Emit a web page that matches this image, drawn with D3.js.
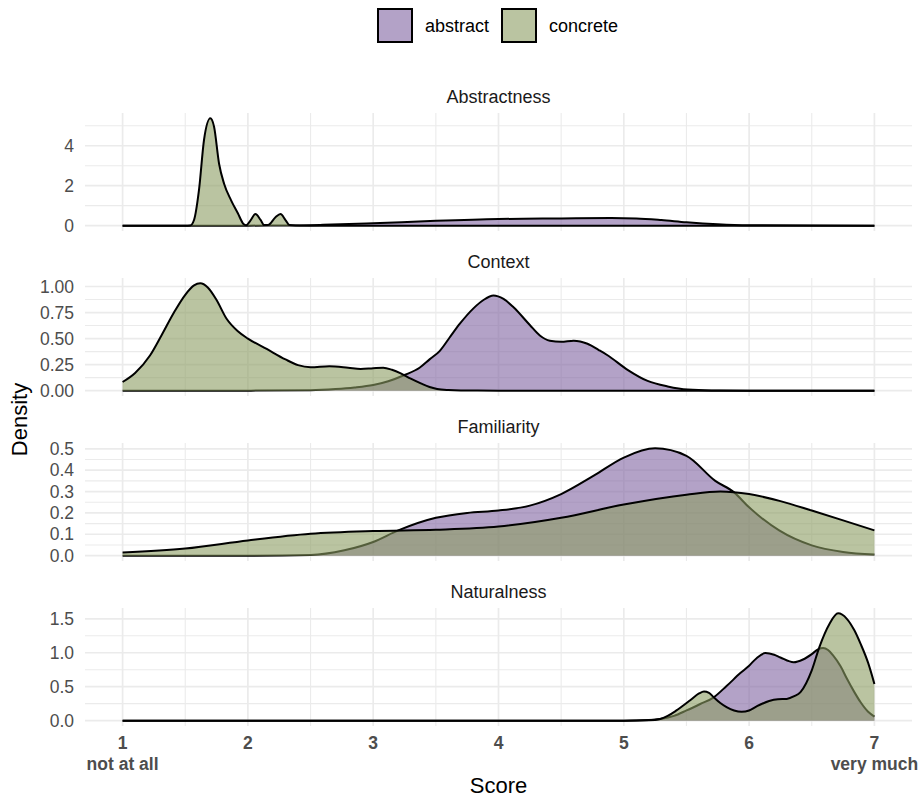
<!DOCTYPE html>
<html>
<head>
<meta charset="utf-8">
<script src="https://cdn.jsdelivr.net/npm/d3@7"></script>
<style>
  body { margin: 0; background: #fff; }
  svg { font-family: "Liberation Sans", Arial, sans-serif; }
</style>
</head>
<body>
<svg id="chart" width="921" height="799"></svg>
<script>
// ---- data ----
var groups = ["abstract", "concrete"];
var panelNames = ["Abstractness", "Context", "Familiarity", "Naturalness"];
var xTicks = [1, 2, 3, 4, 5, 6, 7];
var xTickLabels = ["1\nnot at all", "2", "3", "4", "5", "6", "7\nvery much"];

// y breaks per panel
var yTicksAbstractness = [0, 2, 4];
var yTicksContext = [0, 0.25, 0.5, 0.75, 1];
var yTicksFamiliarity = [0, 0.1, 0.2, 0.3, 0.4, 0.5];
var yTicksNaturalness = [0, 0.5, 1, 1.5];

// density curves, [score, density]
var abstractnessAbstract = [[1,0],[2,0],[2.3,0.005],[2.6,0.04],[3,0.12],[3.5,0.24],[4,0.33],[4.5,0.36],[4.9,0.38],[5.1,0.36],[5.3,0.28],[5.5,0.17],[5.75,0.07],[6,0.02],[6.5,0.002],[7,0]];
var abstractnessConcrete = [[1,0],[1.5,0],[1.54,0.01],[1.57,0.28],[1.61,1.8],[1.65,4.3],[1.7,5.37],[1.73,4.95],[1.77,3.1],[1.81,2.1],[1.865,1.28],[1.92,0.62],[1.965,0.08],[1.985,0.02],[2.02,0.25],[2.06,0.58],[2.1,0.3],[2.13,0.03],[2.16,0.03],[2.22,0.42],[2.26,0.58],[2.3,0.28],[2.33,0.03],[2.38,0.005],[2.5,0],[3,0],[7,0]];

var contextAbstract = [[1,0],[2,0],[2.5,0.004],[2.7,0.015],[2.85,0.03],[3,0.054],[3.12,0.09],[3.25,0.15],[3.37,0.22],[3.45,0.3],[3.53,0.38],[3.61,0.51],[3.69,0.64],[3.8,0.79],[3.88,0.87],[3.96,0.913],[4.04,0.88],[4.12,0.8],[4.25,0.63],[4.33,0.53],[4.41,0.48],[4.5,0.47],[4.6,0.48],[4.71,0.45],[4.8,0.39],[4.87,0.34],[5.03,0.2],[5.19,0.093],[5.35,0.04],[5.51,0.01],[5.7,0.002],[6,0],[7,0]];
var contextConcrete = [[1,0.083],[1.1,0.17],[1.22,0.34],[1.31,0.53],[1.41,0.75],[1.5,0.92],[1.57,1.01],[1.62,1.03],[1.68,0.99],[1.75,0.87],[1.83,0.69],[1.92,0.57],[2,0.5],[2.15,0.4],[2.3,0.3],[2.4,0.245],[2.5,0.225],[2.65,0.235],[2.8,0.22],[2.9,0.207],[3,0.215],[3.08,0.22],[3.15,0.2],[3.22,0.166],[3.3,0.115],[3.38,0.07],[3.45,0.035],[3.51,0.016],[3.6,0.005],[3.7,0.001],[4,0],[7,0]];

var familiarityAbstract = [[1,0],[2,0],[2.5,0.003],[2.77,0.025],[3,0.064],[3.2,0.118],[3.5,0.177],[3.75,0.2],[4,0.211],[4.25,0.234],[4.5,0.288],[4.76,0.374],[5,0.459],[5.25,0.502],[5.5,0.467],[5.73,0.35],[5.88,0.296],[6,0.226],[6.24,0.118],[6.5,0.048],[6.75,0.017],[7,0.005]];
var familiarityConcrete = [[1,0.015],[1.5,0.033],[2,0.071],[2.5,0.102],[3,0.115],[3.5,0.121],[4,0.136],[4.5,0.177],[5,0.239],[5.5,0.285],[5.77,0.3],[6,0.288],[6.25,0.255],[6.5,0.211],[6.75,0.165],[7,0.118]];

var naturalnessAbstract = [[1,0],[5,0],[5.2,0.008],[5.29,0.025],[5.4,0.07],[5.5,0.15],[5.61,0.245],[5.715,0.34],[5.82,0.51],[5.93,0.7],[6,0.81],[6.06,0.92],[6.13,0.995],[6.2,0.97],[6.25,0.93],[6.355,0.86],[6.43,0.9],[6.5,0.98],[6.55,1.05],[6.59,1.07],[6.63,1.04],[6.67,0.96],[6.73,0.8],[6.78,0.62],[6.84,0.42],[6.89,0.27],[6.95,0.13],[7,0.06]];
var naturalnessConcrete = [[1,0],[5,0],[5.2,0.006],[5.29,0.025],[5.35,0.07],[5.42,0.15],[5.53,0.3],[5.6,0.4],[5.64,0.43],[5.68,0.41],[5.715,0.35],[5.77,0.26],[5.82,0.2],[5.88,0.15],[5.94,0.13],[6,0.15],[6.06,0.21],[6.16,0.29],[6.23,0.315],[6.3,0.32],[6.36,0.36],[6.41,0.42],[6.5,0.74],[6.56,1.08],[6.64,1.42],[6.71,1.58],[6.78,1.5],[6.84,1.33],[6.89,1.13],[6.95,0.85],[7,0.54]];

// table the drawing code walks through
var panels = [
  {name: panelNames[0], ticks: yTicksAbstractness, fmt: d3.format("d"), abstract: abstractnessAbstract, concrete: abstractnessConcrete},
  {name: panelNames[1], ticks: yTicksContext, fmt: d3.format(".2f"), abstract: contextAbstract, concrete: contextConcrete},
  {name: panelNames[2], ticks: yTicksFamiliarity, fmt: d3.format(".1f"), abstract: familiarityAbstract, concrete: familiarityConcrete},
  {name: panelNames[3], ticks: yTicksNaturalness, fmt: d3.format(".1f"), abstract: naturalnessAbstract, concrete: naturalnessConcrete}
];

// ---- layout ----
var svg = d3.select("#chart");
var left = 85, right = 912;
var panelTop = 113, panelH = 118, panelStep = 165;
var fills = {abstract: "#8064A2", concrete: "#8C9D62"};
var fillAlpha = 0.6;
var gridCol = "#EBEBEB";
var textCol = "#4D4D4D";
var lineW = 2;

// ggplot style expansion of 5% on both sides
var x = d3.scaleLinear().domain([0.7, 7.3]).range([left, right]);

function drawPanel(p, i) {
  var top = panelTop + i * panelStep;
  var maxY = d3.max(groups, function (g) { return d3.max(p[g], function (d) { return d[1]; }); });
  var y = d3.scaleLinear().domain([-0.05 * maxY, 1.05 * maxY]).range([top + panelH, top]);
  var g = svg.append("g").attr("class", "panel");

  // minor gridlines sit halfway between breaks
  var step = p.ticks[1] - p.ticks[0];
  var yMinor = p.ticks.map(function (t) { return t + step / 2; })
    .filter(function (t) { return t <= y.domain()[1]; });
  var xMinor = xTicks.slice(0, -1).map(function (t) { return t + 0.5; });

  g.selectAll(".ymin").data(yMinor).enter().append("line")
    .attr("x1", left).attr("x2", right)
    .attr("y1", function (d) { return y(d); }).attr("y2", function (d) { return y(d); })
    .style("stroke", gridCol).style("stroke-width", 1.1);
  g.selectAll(".xmin").data(xMinor).enter().append("line")
    .attr("y1", top).attr("y2", top + panelH)
    .attr("x1", function (d) { return x(d); }).attr("x2", function (d) { return x(d); })
    .style("stroke", gridCol).style("stroke-width", 1.1);
  g.selectAll(".ymaj").data(p.ticks).enter().append("line")
    .attr("x1", left).attr("x2", right)
    .attr("y1", function (d) { return y(d); }).attr("y2", function (d) { return y(d); })
    .style("stroke", gridCol).style("stroke-width", 1.7);
  g.selectAll(".xmaj").data(xTicks).enter().append("line")
    .attr("y1", top).attr("y2", top + panelH)
    .attr("x1", function (d) { return x(d); }).attr("x2", function (d) { return x(d); })
    .style("stroke", gridCol).style("stroke-width", 1.7);

  // y axis labels, no domain line / ticks
  var yAxis = d3.axisLeft(y).tickValues(p.ticks).tickFormat(p.fmt).tickSize(0).tickPadding(11);
  var ax = g.append("g").attr("transform", "translate(" + left + ",0)").call(yAxis);
  ax.select(".domain").remove();
  ax.selectAll("text").style("font-size", "17.5px").style("fill", textCol).style("font-family", null);

  // strip title
  g.append("text")
    .attr("x", (left + right) / 2).attr("y", top - 10)
    .attr("text-anchor", "middle")
    .style("font-size", "18px").style("fill", "#1A1A1A")
    .text(p.name);

  var area = d3.area()
    .x(function (d) { return x(d[0]); })
    .y0(y(0))
    .y1(function (d) { return y(d[1]); })
    .curve(d3.curveMonotoneX);
  var line = d3.line()
    .x(function (d) { return x(d[0]); })
    .y(function (d) { return y(d[1]); })
    .curve(d3.curveMonotoneX);

  // abstract first, concrete laid over it
  groups.forEach(function (grp) {
    g.append("path").datum(p[grp])
      .attr("d", area)
      .style("fill", fills[grp]).style("fill-opacity", fillAlpha)
      .style("stroke", "none");
    g.append("path").datum(p[grp])
      .attr("d", line)
      .style("fill", "none").style("stroke", "#000")
      .style("stroke-width", lineW).style("stroke-linejoin", "round");
  });

  return top;
}

panels.forEach(drawPanel);

// x axis labels under the last panel
var bottom = panelTop + 3 * panelStep + panelH;
var xlab = svg.append("g").selectAll("text")
  .data(xTicks)
  .enter()
  .append("text")
  .attr("text-anchor", "middle")
  .style("font-size", "17.5px").style("font-weight", "bold").style("fill", textCol);
xlab.each(function (d, i) {
  var parts = xTickLabels[i].split("\n");
  var t = d3.select(this);
  parts.forEach(function (s, k) {
    t.append("tspan").attr("x", x(d)).attr("y", bottom + 23 + k * 21).text(s);
  });
});

// axis titles
svg.append("text")
  .attr("x", (left + right) / 2).attr("y", 793)
  .attr("text-anchor", "middle")
  .style("font-size", "22px").style("fill", "#000")
  .text("Score");
svg.append("text")
  .attr("transform", "translate(27," + (panelTop + bottom) / 2 + ") rotate(-90)")
  .attr("text-anchor", "middle")
  .style("font-size", "22px").style("fill", "#000")
  .text("Density");

// legend on top
var legendX = [378, 502];
var leg = svg.append("g").selectAll("g")
  .data(groups)
  .enter()
  .append("g")
  .attr("transform", function (d, i) { return "translate(" + legendX[i] + ",9)"; });
leg.append("rect")
  .attr("width", 34).attr("height", 33)
  .style("fill", function (d) { return fills[d]; })
  .style("fill-opacity", fillAlpha)
  .style("stroke", "#000").style("stroke-width", lineW);
leg.append("text")
  .attr("x", 47).attr("y", 23)
  .style("font-size", "18px").style("fill", "#000")
  .text(function (d) { return d; });
</script>
</body>
</html>
